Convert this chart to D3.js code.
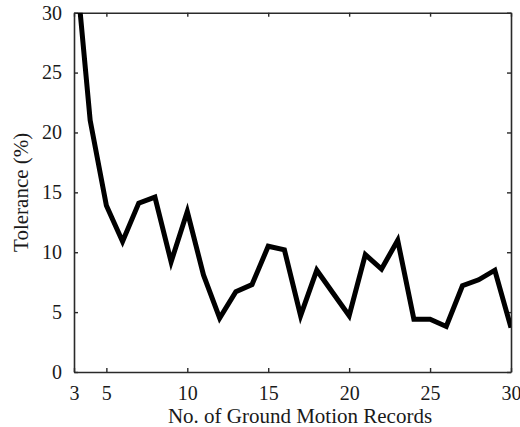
<!DOCTYPE html>
<html>
<head>
<meta charset="utf-8">
<script src="https://cdn.jsdelivr.net/npm/d3@7"></script>
<style>
  html, body { margin: 0; padding: 0; background: #fff; }
  svg { display: block; }
  text { font-family: "Liberation Serif", "Times New Roman", serif; fill: #1a1a1a; }
</style>
</head>
<body>
<svg id="chart" width="520" height="427"></svg>
<script>
const records = [3, 4, 5, 6, 7, 8, 9, 10, 11, 12, 13, 14, 15, 16, 17, 18, 19, 20, 21, 22, 23, 24, 25, 26, 27, 28, 29, 30];
const tolerance = [35.6, 21.0, 13.9, 10.9, 14.1, 14.6, 9.2, 13.4, 8.1, 4.5, 6.7, 7.3, 10.5, 10.2, 4.7, 8.5, 6.6, 4.7, 9.8, 8.6, 11.0, 4.4, 4.4, 3.8, 7.2, 7.7, 8.5, 3.7];
const xTicks = [3, 5, 10, 15, 20, 25, 30];
const yTicks = [0, 5, 10, 15, 20, 25, 30];
const xLabel = "No. of Ground Motion Records";
const yLabel = "Tolerance (%)";

const svg = d3.select("#chart");
const mLeft = 74, mRight = 511, mTop = 12.7, mBottom = 372;

const x = d3.scaleLinear().domain([3, 30]).range([mLeft, mRight]);
const y = d3.scaleLinear().domain([0, 30]).range([mBottom, mTop]);

svg.append("defs").append("clipPath").attr("id", "plotclip")
  .append("rect").attr("x", mLeft).attr("y", mTop)
  .attr("width", mRight - mLeft).attr("height", mBottom - mTop);

const axisColor = "#2a2a2a";
const tickFont = 20;

const gx = svg.append("g").attr("transform", `translate(0,${mBottom})`)
  .call(d3.axisBottom(x).tickValues(xTicks).tickSizeInner(-4).tickSizeOuter(0).tickPadding(14).tickFormat(d3.format("d")));
const gxt = svg.append("g").attr("transform", `translate(0,${mTop})`)
  .call(d3.axisTop(x).tickValues(xTicks).tickSizeInner(-4).tickSizeOuter(0).tickFormat(""));
const gy = svg.append("g").attr("transform", `translate(${mLeft},0)`)
  .call(d3.axisLeft(y).tickValues(yTicks).tickSizeInner(-4).tickSizeOuter(0).tickPadding(12).tickFormat(d3.format("d")));
const gyr = svg.append("g").attr("transform", `translate(${mRight},0)`)
  .call(d3.axisRight(y).tickValues(yTicks).tickSizeInner(-4).tickSizeOuter(0).tickFormat(""));

[gx, gxt, gy, gyr].forEach(g => {
  g.select(".domain").attr("stroke", axisColor).attr("stroke-width", 1.6);
  g.selectAll(".tick line").attr("stroke", axisColor).attr("stroke-width", 1.4);
  g.selectAll(".tick text").attr("font-size", tickFont)
    .attr("font-family", "Liberation Serif, serif").attr("fill", "#1a1a1a");
});

const line = d3.line().x((d, i) => x(records[i])).y(d => y(d));
svg.append("path")
  .datum(tolerance)
  .attr("clip-path", "url(#plotclip)")
  .attr("d", line)
  .attr("fill", "none")
  .attr("stroke", "#000")
  .attr("stroke-width", 5)
  .attr("stroke-linejoin", "miter")
  .attr("stroke-miterlimit", 4);

svg.append("text")
  .attr("x", 300).attr("y", 423)
  .attr("text-anchor", "middle")
  .attr("font-size", 21)
  .text(xLabel);

svg.append("text")
  .attr("transform", `translate(28,${(mTop + mBottom) / 2}) rotate(-90)`)
  .attr("text-anchor", "middle")
  .attr("font-size", 21)
  .text(yLabel);
</script>
</body>
</html>
